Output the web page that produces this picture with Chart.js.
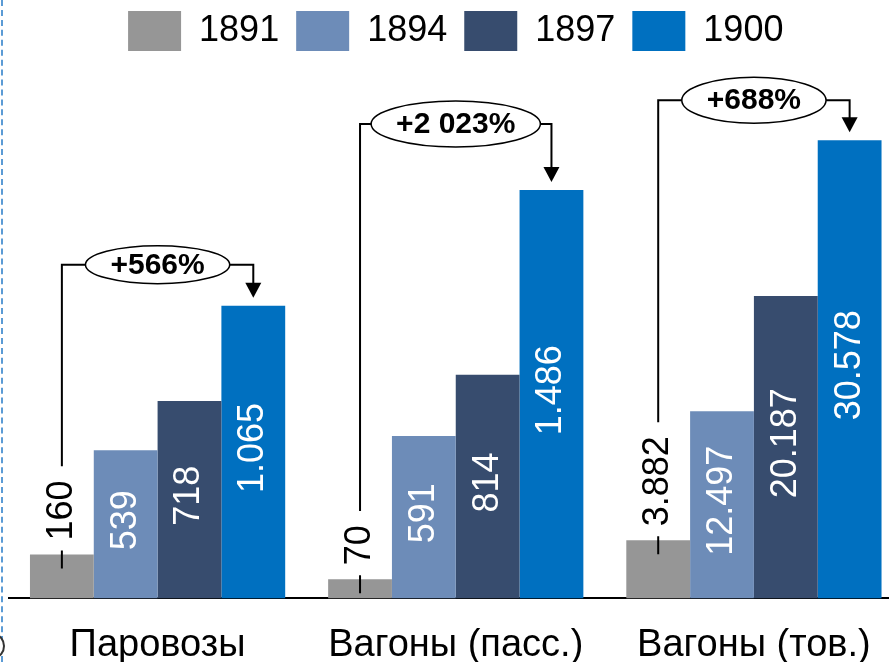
<!DOCTYPE html>
<html>
<head>
<meta charset="utf-8">
<script src="https://cdn.jsdelivr.net/npm/chart.js@4/dist/chart.umd.min.js"></script>
<style>
  html, body { margin: 0; padding: 0; background: #fff; overflow: hidden; }
  #wrap { position: relative; width: 903px; height: 692px; }
  #edge { position: absolute; left: 1px; top: 0; height: 662px; border-left: 2px dashed #5b9bd5; }
  #handle { position: absolute; left: -15px; top: 634px; width: 16px; height: 20px; border: 2px solid #333; border-radius: 50%; background: #fff; }
</style>
</head>
<body>
<div id="wrap"><canvas id="c"></canvas></div>
<div id="edge"></div>
<div id="handle"></div>
<script>
// ---- data ----
const categories = ['Паровозы', 'Вагоны (пасс.)', 'Вагоны (тов.)'];
const years = ['1891', '1894', '1897', '1900'];
const v1891 = [160, 70, 3882];
const v1894 = [539, 591, 12497];
const v1897 = [718, 814, 20187];
const v1900 = [1065, 1486, 30578];
const colors = ['#969696', '#6d8cb8', '#374c6e', '#0070c0'];

const series = [v1891, v1894, v1897, v1900];
const SANS = "'Liberation Sans', Arial, sans-serif";

// first two categories share one value axis, the freight wagons use their own
const datasets = [];
series.forEach((s, i) => {
  datasets.push({ label: years[i], data: [s[0], s[1], null], backgroundColor: colors[i], yAxisID: 'y' });
});
series.forEach((s, i) => {
  datasets.push({ label: years[i], data: [null, null, s[2]], backgroundColor: colors[i], yAxisID: 'y2' });
});

const fmtDot = v => String(v).replace(/\B(?=(\d{3})+(?!\d))/g, '.');
const fmtSpace = v => String(v).replace(/\B(?=(\d{3})+(?!\d))/g, ' ');

const valueLabels = {
  id: 'valueLabels',
  afterDatasetsDraw(chart) {
    const ctx = chart.ctx;
    ctx.save();
    ctx.font = '36px ' + SANS;
    ctx.textBaseline = 'middle';
    chart.data.datasets.forEach((ds, di) => {
      const meta = chart.getDatasetMeta(di);
      const yi = di % 4;
      meta.data.forEach((bar, j) => {
        const v = ds.data[j];
        if (v === null || v === undefined) return;
        const txt = fmtDot(v);
        ctx.save();
        if (yi === 0) {
          ctx.fillStyle = '#000';
          ctx.translate(bar.x, bar.y - 14);
          ctx.rotate(-Math.PI / 2);
          ctx.textAlign = 'left';
          ctx.fillText(txt, 0, 0);
        } else {
          ctx.fillStyle = '#fff';
          ctx.translate(bar.x, (bar.y + bar.base) / 2 - 4);
          ctx.rotate(-Math.PI / 2);
          ctx.textAlign = 'center';
          ctx.fillText(txt, 0, 0);
        }
        ctx.restore();
      });
    });
    ctx.restore();
  }
};

const brackets = {
  id: 'brackets',
  afterDatasetsDraw(chart) {
    const ctx = chart.ctx;
    const lift = [41, 66, 40];
    const ry = [19, 23, 23];
    ctx.save();
    ctx.strokeStyle = '#000';
    ctx.fillStyle = '#000';
    ctx.lineWidth = 2;
    categories.forEach((c, j) => {
      const off = j < 2 ? 0 : 4;
      const g = chart.getDatasetMeta(off).data[j];
      const b = chart.getDatasetMeta(off + 3).data[j];
      const yB = b.y - lift[j];
      ctx.font = '36px ' + SANS;
      const lw = ctx.measureText(fmtDot(v1891[j])).width;
      const labelTop = g.y - 14 - lw;
      ctx.beginPath();
      ctx.moveTo(g.x, g.y - 4); ctx.lineTo(g.x, g.y + 14);
      ctx.moveTo(g.x, labelTop - 14); ctx.lineTo(g.x, yB); ctx.lineTo(b.x, yB);
      const tip = b.y - 8;
      ctx.lineTo(b.x, tip - 14);
      ctx.stroke();
      ctx.beginPath();
      ctx.moveTo(b.x - 8, tip - 15); ctx.lineTo(b.x + 8, tip - 15); ctx.lineTo(b.x, tip);
      ctx.closePath(); ctx.fill();
      const pct = Math.round((v1900[j] / v1891[j] - 1) * 100);
      const txt = '+' + fmtSpace(pct) + '%';
      ctx.font = 'bold 30px ' + SANS;
      const tw = ctx.measureText(txt).width;
      const cx = (g.x + b.x) / 2;
      ctx.beginPath();
      ctx.ellipse(cx, yB, (tw + 50) / 2, ry[j], 0, 0, Math.PI * 2);
      ctx.fillStyle = '#fff'; ctx.fill();
      ctx.lineWidth = 1.5; ctx.stroke(); ctx.lineWidth = 2;
      ctx.fillStyle = '#000';
      ctx.textAlign = 'center'; ctx.textBaseline = 'middle';
      ctx.fillText(txt, cx, yB + 1);
    });
    ctx.restore();
  }
};

new Chart(document.getElementById('c'), {
  type: 'bar',
  data: { labels: categories, datasets },
  options: {
    responsive: true,
    maintainAspectRatio: false,
    animation: false,
    events: [],
    layout: { padding: { top: -6, left: 8.5, right: 0, bottom: 0 } },
    datasets: { bar: { skipNull: true, barPercentage: 1, categoryPercentage: 0.856 } },
    plugins: {
      tooltip: { enabled: false },
      legend: {
        position: 'top',
        labels: {
          filter: item => item.datasetIndex < 4,
          boxWidth: 53, boxHeight: 40, padding: 17,
          color: '#000',
          font: { family: SANS, size: 36 }
        }
      }
    },
    scales: {
      x: {
        grid: { display: false, drawTicks: false },
        border: { display: true, color: '#000', width: 2 },
        ticks: { color: '#000', padding: 24, maxRotation: 0, minRotation: 0, autoSkip: false,
                 font: { family: SANS, size: 38 } }
      },
      y: { display: false, min: 0, max: 1955 },
      y2: { display: false, min: 0, max: 35865 }
    }
  },
  plugins: [valueLabels, brackets]
});
</script>
</body>
</html>
